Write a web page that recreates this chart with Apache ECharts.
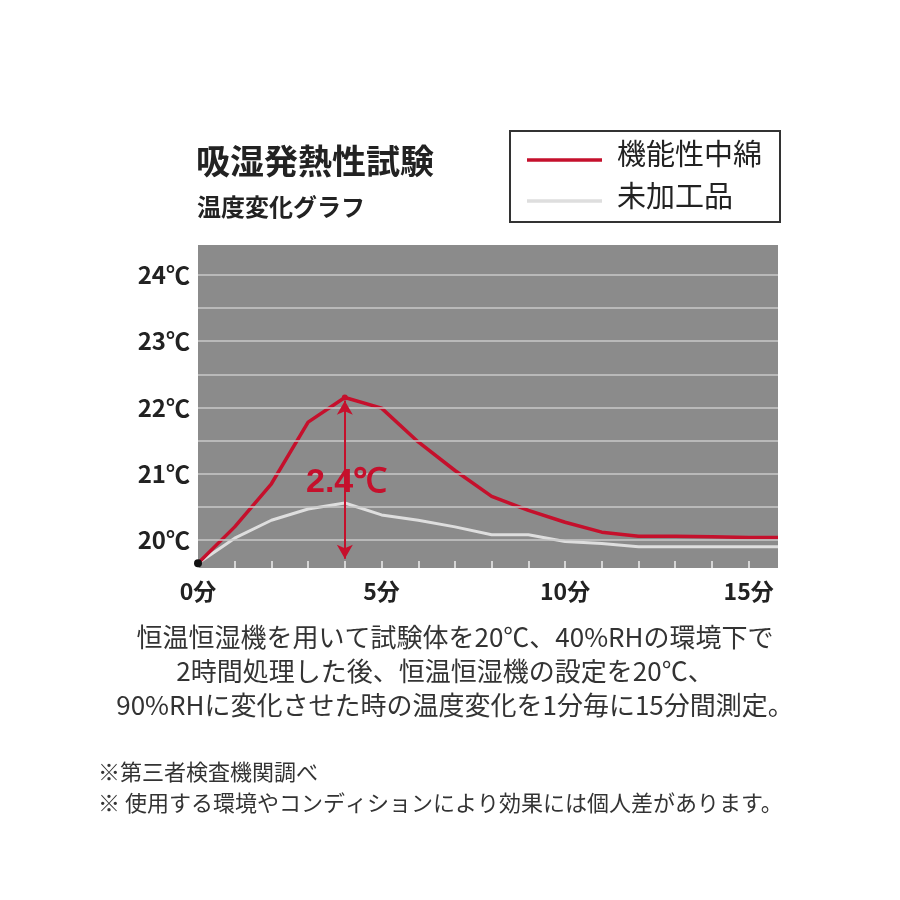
<!DOCTYPE html><html><head><meta charset="utf-8"><script src="https://cdn.jsdelivr.net/npm/echarts@6/dist/echarts.min.js"></script>
<style>html,body{margin:0;background:#fff}#c{width:900px;height:900px}</style></head><body><div id="c"></div><script>
const minutes=[0,1,2,3,4,5,6,7,8,9,10,11,12,13,14,15,15.8];
const functional=[19.65,20.2,20.85,21.78,22.15,21.99,21.48,21.05,20.66,20.45,20.27,20.12,20.06,20.06,20.05,20.04,20.04];
const untreated=[19.65,20.03,20.3,20.47,20.56,20.38,20.3,20.2,20.08,20.08,19.98,19.95,19.9,19.9,19.9,19.9,19.9];
const yTicks=[20,21,22,23,24];
const gridVals=[20,20.5,21,21.5,22,22.5,23,23.5,24];
const seriesNames=['機能性中綿','未加工品'];
const RED='#c5102c',GRAY='#dedede';
const font='"Noto Sans CJK JP"';
const ch=echarts.init(document.getElementById('c'));
ch.setOption({
 animation:false,
 textStyle:{fontFamily:font},
 grid:{left:198,right:122,top:245,bottom:332,show:true,backgroundColor:'#8b8b8b',borderWidth:0},
 xAxis:{type:'value',min:0,max:15.8,interval:1,axisLine:{show:false},splitLine:{show:false},
  axisTick:{inside:true,length:7,lineStyle:{color:'#eee',width:1.5}},
  axisLabel:{fontSize:23,fontWeight:'bold',color:'#222',margin:12,formatter:v=>v%5===0?v+'分':'',showMaxLabel:false}},
 yAxis:{type:'value',min:19.58,max:24.45,axisLine:{show:false},axisTick:{show:false},splitLine:{show:false},
  axisLabel:{customValues:yTicks,fontSize:24,fontWeight:'bold',color:'#222',margin:8,formatter:v=>v+'℃'}},
 series:[
  {name:seriesNames[1],type:'line',data:minutes.map((m,i)=>[m,untreated[i]]),symbol:'none',lineStyle:{color:GRAY,width:3},z:3,
   markLine:{silent:true,symbol:'none',label:{show:false},lineStyle:{color:'#c9c9c9',width:1.5,type:'solid'},data:gridVals.map(v=>({yAxis:v}))}},
  {name:seriesNames[0],type:'line',data:minutes.map((m,i)=>[m,functional[i]]),symbol:'none',lineStyle:{color:RED,width:3.5},z:4,
   markLine:{silent:true,symbol:['arrow','arrow'],symbolSize:[12,14],label:{show:false},lineStyle:{color:RED,width:2,type:'solid'},
    data:[[{coord:[4,22.1]},{coord:[4,19.72]}]]},
   markPoint:{silent:true,data:[{coord:[4,22.15],symbol:'circle',symbolSize:6,itemStyle:{color:RED},label:{show:false}},
    {coord:[0,19.65],symbol:'circle',symbolSize:8,itemStyle:{color:'#111'},label:{show:false}}]}}
 ],
 graphic:[
  {type:'text',left:196,top:144,style:{text:'吸湿発熱性試験',fontSize:34,fontWeight:'bold',fill:'#222',fontFamily:font}},
  {type:'text',left:197,top:195,style:{text:'温度変化グラフ',fontSize:24,fontWeight:'bold',fill:'#222',fontFamily:font}},
  {type:'rect',shape:{x:510,y:131,width:270,height:91},style:{fill:'#fff',stroke:'#333',lineWidth:2}},
  {type:'line',shape:{x1:527,y1:160,x2:602,y2:160},style:{stroke:RED,lineWidth:3.5}},
  {type:'line',shape:{x1:527,y1:201,x2:602,y2:201},style:{stroke:GRAY,lineWidth:3.5}},
  {type:'text',left:617,top:139,style:{text:seriesNames[0],fontSize:29,fill:'#222',fontFamily:font}},
  {type:'text',left:617,top:181,style:{text:seriesNames[1],fontSize:29,fill:'#222',fontFamily:font}},
  {type:'text',left:306,top:466,z:10,style:{text:'2.4℃',fontSize:34,fontWeight:'bold',fill:RED,fontFamily:'"Liberation Sans"'}},
  {type:'text',x:455,y:637,style:{text:'恒温恒湿機を用いて試験体を20℃、40%RHの環境下で',fontSize:26,fill:'#333',align:'center',verticalAlign:'middle',fontFamily:font}},
  {type:'text',x:445,y:671,style:{text:'2時間処理した後、恒温恒湿機の設定を20℃、',fontSize:26,fill:'#333',align:'center',verticalAlign:'middle',fontFamily:font}},
  {type:'text',x:455,y:705,style:{text:'90%RHに変化させた時の温度変化を1分毎に15分間測定。',fontSize:26,fill:'#333',align:'center',verticalAlign:'middle',fontFamily:font}},
  {type:'text',left:98,top:761,style:{text:'※第三者検査機関調べ',fontSize:22,fill:'#333',fontFamily:font}},
  {type:'text',left:98,top:792,style:{text:'※ 使用する環境やコンディションにより効果には個人差があります。',fontSize:22,fill:'#333',fontFamily:font}}
 ]
});
</script></body></html>
